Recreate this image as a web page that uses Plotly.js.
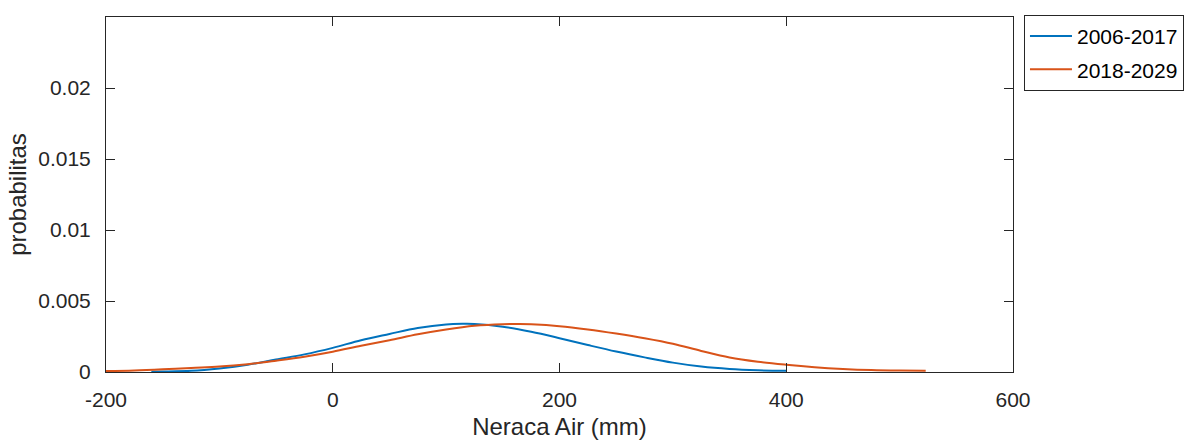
<!DOCTYPE html>
<html>
<head>
<meta charset="utf-8">
<script src="https://cdn.plot.ly/plotly-3.0.1.min.js"></script>
<style>
  html, body { margin: 0; padding: 0; background: #fff; }
  #chart { width: 1192px; height: 440px; }
</style>
</head>
<body>
<div id="chart"></div>
<script>
// Series names
const seriesNames = ["2006-2017", "2018-2029"];

// 2006-2017 (blue)
const xBlue = [-160, -150, -125, -100, -75, -50, -25, 0, 25, 50, 75, 100, 115, 125, 150, 175, 200, 225, 250, 275, 300, 325, 350, 375, 400];
const yBlue = [0.00002, 0.00003, 0.00008, 0.00025, 0.00051, 0.00088, 0.00124, 0.00170, 0.00224, 0.00268, 0.00310, 0.00335, 0.00339, 0.00338, 0.00319, 0.00283, 0.00238, 0.00190, 0.00144, 0.00103, 0.00066, 0.00038, 0.00021, 0.00012, 0.00008];

// 2018-2029 (orange)
const xOrange = [-200, -175, -150, -125, -100, -75, -50, -25, 0, 25, 50, 75, 100, 125, 150, 165, 175, 200, 225, 250, 275, 300, 325, 350, 375, 400, 425, 450, 475, 500, 523];
const yOrange = [0.00007, 0.00011, 0.00019, 0.00029, 0.00038, 0.00055, 0.00080, 0.00108, 0.00143, 0.00185, 0.00224, 0.00266, 0.00300, 0.00326, 0.00337, 0.00338, 0.00336, 0.00323, 0.00300, 0.00271, 0.00238, 0.00199, 0.00148, 0.00102, 0.00072, 0.00051, 0.00034, 0.00022, 0.00014, 0.00010, 0.00008];

// Axis ticks
const xTicks = [-200, 0, 200, 400, 600];
const xTickText = ["-200", "0", "200", "400", "600"];
const yTicks = [0, 0.005, 0.01, 0.015, 0.02];
const yTickText = ["0", "0.005", "0.01", "0.015", "0.02"];

const axisColor = "#262626";
const fontFam = "Liberation Sans, Arial, Helvetica, sans-serif";

const traces = [
  { x: xBlue, y: yBlue, name: seriesNames[0], legendgroup: "a", type: "scatter", mode: "lines",
    line: { color: "#0072BD", width: 2, shape: "spline", smoothing: 1 } },
  { x: xOrange, y: yOrange, name: seriesNames[1], legendgroup: "b", type: "scatter", mode: "lines",
    line: { color: "#D95319", width: 2, shape: "spline", smoothing: 1 } }
];

const layout = {
  width: 1192, height: 440,
  margin: { l: 106, r: 179, t: 17, b: 68, pad: 0, autoexpand: false },
  paper_bgcolor: "#fff", plot_bgcolor: "#fff",
  font: { family: fontFam, color: axisColor, size: 21 },
  showlegend: true,
  legend: {
    x: 1.0121, xanchor: "left", y: 1.006, yanchor: "top",
    bordercolor: axisColor, borderwidth: 1, bgcolor: "#fff",
    font: { family: fontFam, size: 21, color: "#000" },
    itemwidth: 42, tracegroupgap: 3,
    entrywidth: 125, entrywidthmode: "pixels"
  },
  xaxis: {
    range: [-200, 600], tickvals: xTicks, ticktext: xTickText,
    showgrid: false, zeroline: false,
    showline: true, linecolor: axisColor, linewidth: 1, mirror: "ticks",
    ticks: "inside", ticklen: 9, tickwidth: 1, tickcolor: axisColor,
    tickfont: { family: fontFam, size: 21, color: axisColor },
    ticklabelstandoff: 9,
    title: { text: "Neraca Air (mm)", font: { family: fontFam, size: 24, color: axisColor }, standoff: 8 },
    automargin: false
  },
  yaxis: {
    range: [0, 0.025], tickvals: yTicks, ticktext: yTickText,
    showgrid: false, zeroline: false,
    showline: true, linecolor: axisColor, linewidth: 1, mirror: "ticks",
    ticks: "inside", ticklen: 9, tickwidth: 1, tickcolor: axisColor,
    tickfont: { family: fontFam, size: 21, color: axisColor },
    ticklabelstandoff: 10,
    title: { text: "probabilitas", font: { family: fontFam, size: 24, color: axisColor }, standoff: 4 },
    automargin: false
  }
};

Plotly.newPlot("chart", traces, layout, { displayModeBar: false, staticPlot: true });
</script>
</body>
</html>
